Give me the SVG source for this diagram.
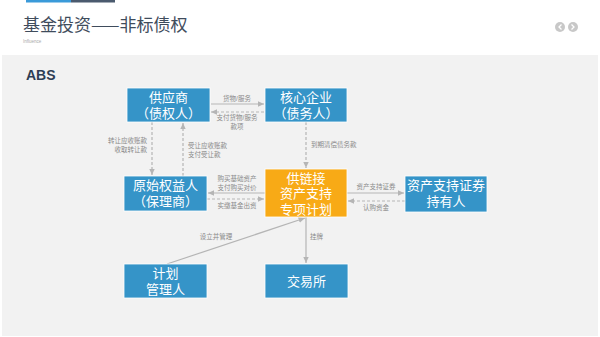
<svg xmlns="http://www.w3.org/2000/svg" width="600" height="337" viewBox="0 0 600 337">
<defs>
<style>
.node rect{stroke:#ffffff;stroke-width:0.8}
.blue rect{fill:#3594C8}
.orange rect{fill:#F8AA16}
.nt{font-family:"Liberation Sans","Noto Sans CJK SC",sans-serif;font-size:13px;fill:#ffffff;text-anchor:middle}
.lbl{font-family:"Liberation Sans","Noto Sans CJK SC",sans-serif;font-size:6.5px;fill:#8A8A8A}
.solid{stroke:#B5B5B5;stroke-width:1.2;fill:none}
.dash{stroke:#B5B5B5;stroke-width:1.2;fill:none;stroke-dasharray:3 2}
</style>
<marker id="ah" viewBox="0 0 10 10" refX="9" refY="5" markerWidth="6" markerHeight="6" orient="auto-start-reverse">
<path d="M0,1 L9,5 L0,9 z" fill="#B5B5B5"/>
</marker>
</defs>
<rect x="0" y="0" width="600" height="337" fill="#ffffff"/>
<rect x="26" y="0" width="45" height="2.5" fill="#3A9AD9"/>
<rect x="71" y="0" width="44" height="2.5" fill="#4A5A6E"/>
<text x="23" y="31" font-family="Noto Sans CJK SC,Liberation Sans,sans-serif" font-size="17" fill="#3F4C5C">基金投资——非标债权</text>
<text x="23" y="43" font-family="Liberation Sans,sans-serif" font-size="4.5" fill="#AAAAAA">Influence</text>
<g id="nav">
<circle cx="560" cy="27" r="5" fill="#C8C8C8"/>
<circle cx="573" cy="27" r="5" fill="#C8C8C8"/>
<path d="M561.5,24.5 L559,27 L561.5,29.5" stroke="#ffffff" stroke-width="1.3" fill="none"/>
<path d="M571.5,24.5 L574,27 L571.5,29.5" stroke="#ffffff" stroke-width="1.3" fill="none"/>
</g>
<rect x="2" y="55" width="596" height="281" fill="#F2F2F2"/>
<text x="26" y="80" font-family="Liberation Sans,Noto Sans,sans-serif" font-size="14" font-weight="bold" fill="#2E3E55">ABS</text>

<g id="connectors">
<line class="solid" x1="211" y1="104" x2="264" y2="104" marker-end="url(#ah)"/>
<line class="dash" x1="264" y1="112" x2="211" y2="112" marker-end="url(#ah)"/>
<line class="dash" x1="306" y1="122" x2="306" y2="168" marker-end="url(#ah)"/>
<line class="dash" x1="152" y1="122" x2="152" y2="175" marker-end="url(#ah)"/>
<line class="dash" x1="183" y1="176" x2="183" y2="123" marker-end="url(#ah)"/>
<line class="solid" x1="265" y1="193" x2="208" y2="193" marker-end="url(#ah)"/>
<line class="dash" x1="207" y1="199" x2="264" y2="199" marker-end="url(#ah)"/>
<line class="solid" x1="347" y1="193" x2="404" y2="193" marker-end="url(#ah)"/>
<line class="dash" x1="405" y1="201" x2="348" y2="201" marker-end="url(#ah)"/>
<line class="solid" x1="167" y1="264" x2="305" y2="218" marker-end="url(#ah)"/>
<line class="solid" x1="306" y1="217" x2="306" y2="263" marker-end="url(#ah)"/>
<text class="lbl" x="237" y="101" text-anchor="middle">货物/服务</text>
<text class="lbl" text-anchor="middle"><tspan x="237" y="120">支付货物/服务</tspan><tspan x="237" y="129">款项</tspan></text>
<text class="lbl" x="311" y="147">到期清偿债务款</text>
<text class="lbl" text-anchor="end"><tspan x="147" y="143">转让应收账款</tspan><tspan x="147" y="152">收取转让款</tspan></text>
<text class="lbl"><tspan x="188" y="148">受让应收账款</tspan><tspan x="188" y="157">支付受让款</tspan></text>
<text class="lbl" text-anchor="middle"><tspan x="237" y="181">购买基础资产</tspan><tspan x="237" y="190">支付购买对价</tspan></text>
<text class="lbl" x="237" y="208" text-anchor="middle">实缴基金出资</text>
<text class="lbl" x="376" y="189" text-anchor="middle">资产支持证券</text>
<text class="lbl" x="376" y="210" text-anchor="middle">认购资金</text>
<text class="lbl" x="216" y="239" text-anchor="middle">设立并管理</text>
<text class="lbl" x="310" y="239">挂牌</text>
</g>

<g id="supplier" class="node blue">
<rect x="127" y="88" width="83" height="34"/>
<text class="nt"><tspan x="168.5" y="102">供应商</tspan><tspan x="168.5" y="117.5">（债权人）</tspan></text>
</g>
<g id="core" class="node blue">
<rect x="265" y="88" width="82" height="34"/>
<text class="nt"><tspan x="306" y="102">核心企业</tspan><tspan x="306" y="117.5">（债务人）</tspan></text>
</g>
<g id="originator" class="node blue">
<rect x="124" y="176" width="83" height="35"/>
<text class="nt"><tspan x="165.5" y="190">原始权益人</tspan><tspan x="165.5" y="205.5">（保理商）</tspan></text>
</g>
<g id="plan" class="node orange">
<rect x="265" y="169" width="82" height="48"/>
<text class="nt"><tspan x="306" y="182.5">供链接</tspan><tspan x="306" y="198">资产支持</tspan><tspan x="306" y="213.5">专项计划</tspan></text>
</g>
<g id="holder" class="node blue">
<rect x="405" y="176" width="82" height="36"/>
<text class="nt"><tspan x="446" y="190">资产支持证券</tspan><tspan x="446" y="205.5">持有人</tspan></text>
</g>
<g id="manager" class="node blue">
<rect x="124" y="264" width="83" height="34"/>
<text class="nt"><tspan x="165.5" y="278">计划</tspan><tspan x="165.5" y="293.5">管理人</tspan></text>
</g>
<g id="exchange" class="node blue">
<rect x="265" y="264" width="83" height="34"/>
<text class="nt" x="306.5" y="286">交易所</text>
</g>
</svg>
